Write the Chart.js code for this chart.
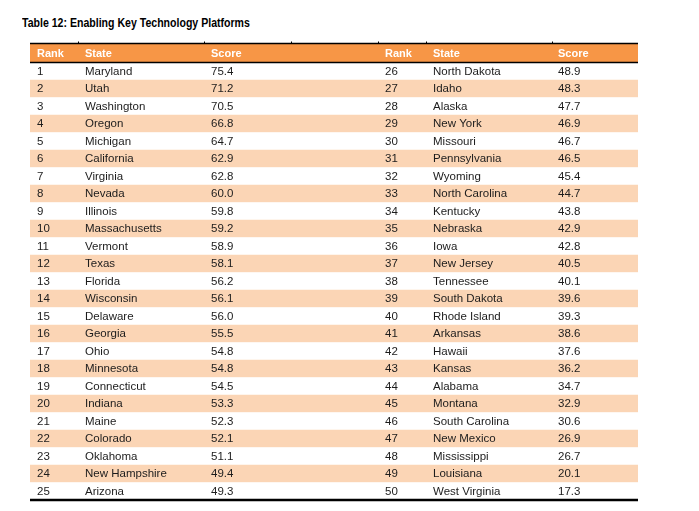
<!DOCTYPE html>
<html>
<head>
<meta charset="utf-8">
<title>Table 12: Enabling Key Technology Platforms</title>
<script src="https://cdn.jsdelivr.net/npm/chart.js@4.4.1/dist/chart.umd.min.js"></script>
<style>
  html, body { margin: 0; padding: 0; background: #fff; }
  body { width: 699px; height: 511px; position: relative; overflow: hidden; }
  #title {
    position: absolute; left: 22px; top: 16px;
    font: bold 12px "Liberation Sans", Arial, sans-serif;
    color: #000; white-space: nowrap;
    transform: scaleX(0.88); transform-origin: left top;
  }
  #wrap { position: absolute; left: 26px; top: 40px; width: 616px; height: 464px; }
</style>
</head>
<body>
<div id="title">Table 12: Enabling Key Technology Platforms</div>
<div id="wrap"><canvas id="tableChart"></canvas></div>
<script>
const headers = ["Rank", "State", "Score"];

const ranks = [1, 2, 3, 4, 5, 6, 7, 8, 9, 10, 11, 12, 13, 14, 15, 16, 17, 18, 19, 20, 21, 22, 23, 24, 25,
  26, 27, 28, 29, 30, 31, 32, 33, 34, 35, 36, 37, 38, 39, 40, 41, 42, 43, 44, 45, 46, 47, 48, 49, 50];

const states = ["Maryland", "Utah", "Washington", "Oregon", "Michigan", "California", "Virginia", "Nevada",
  "Illinois", "Massachusetts", "Vermont", "Texas", "Florida", "Wisconsin", "Delaware", "Georgia", "Ohio",
  "Minnesota", "Connecticut", "Indiana", "Maine", "Colorado", "Oklahoma", "New Hampshire", "Arizona",
  "North Dakota", "Idaho", "Alaska", "New York", "Missouri", "Pennsylvania", "Wyoming", "North Carolina",
  "Kentucky", "Nebraska", "Iowa", "New Jersey", "Tennessee", "South Dakota", "Rhode Island", "Arkansas",
  "Hawaii", "Kansas", "Alabama", "Montana", "South Carolina", "New Mexico", "Mississippi", "Louisiana",
  "West Virginia"];

const scores = [75.4, 71.2, 70.5, 66.8, 64.7, 62.9, 62.8, 60.0, 59.8, 59.2, 58.9, 58.1, 56.2, 56.1, 56.0,
  55.5, 54.8, 54.8, 54.5, 53.3, 52.3, 52.1, 51.1, 49.4, 49.3,
  48.9, 48.3, 47.7, 46.9, 46.7, 46.5, 45.4, 44.7, 43.8, 42.9, 42.8, 40.5, 40.1, 39.6, 39.3, 38.6,
  37.6, 36.2, 34.7, 32.9, 30.6, 26.9, 26.7, 20.1, 17.3];

// layout (table units = px from table left edge)
const TABLE_W = 608;
const ROWS_PER_HALF = 25;
const colX = [[7, 55, 181], [355, 403, 528]];
const dividerX = [48, 174, 261, 348, 396, 522];
const HEADER_EXTRA = 1.5; // header sits a little taller than body rows

const HEADER_BG = "#f79646";
const STRIPE_BG = "#fbd5b5";
const BODY_FONT = '11.5px "Liberation Sans", Arial, sans-serif';
const HEAD_FONT = 'bold 11px "Liberation Sans", Arial, sans-serif';

const rowLabels = ["header"];
for (let i = 0; i < ROWS_PER_HALF; i++) rowLabels.push(String(ranks[i]));

const rowColors = rowLabels.map((l, i) => i === 0 ? HEADER_BG : (i % 2 === 0 ? STRIPE_BG : "#ffffff"));

const cellText = {
  id: "cellText",
  beforeDatasetsDraw(chart) {
    const { ctx, chartArea } = chart;
    ctx.save();
    ctx.fillStyle = HEADER_BG;
    ctx.fillRect(chartArea.left, chartArea.top - HEADER_EXTRA, chartArea.right - chartArea.left, HEADER_EXTRA + 1);
    ctx.restore();
  },
  afterDatasetsDraw(chart) {
    const { ctx, chartArea } = chart;
    const x = chart.scales.x;
    const y = chart.scales.y;
    const band = (y.getPixelForValue(1) - y.getPixelForValue(0));
    const top = chartArea.top - HEADER_EXTRA;

    ctx.save();
    ctx.textBaseline = "middle";
    ctx.textAlign = "left";

    // header
    ctx.font = HEAD_FONT;
    ctx.fillStyle = "#ffffff";
    const hy = y.getPixelForValue(0);
    colX.forEach(cols => cols.forEach((cx, j) => ctx.fillText(headers[j], x.getPixelForValue(cx), hy)));

    // body
    ctx.font = BODY_FONT;
    ctx.fillStyle = "#1c1c1c";
    for (let r = 0; r < ROWS_PER_HALF; r++) {
      const py = y.getPixelForValue(r + 1) + 0.5;
      colX.forEach((cols, h) => {
        const k = h * ROWS_PER_HALF + r;
        ctx.fillText(String(ranks[k]), x.getPixelForValue(cols[0]), py);
        ctx.fillText(states[k], x.getPixelForValue(cols[1]), py);
        ctx.fillText(scores[k].toFixed(1), x.getPixelForValue(cols[2]), py);
      });
    }

    // rules
    ctx.strokeStyle = "#000000";
    ctx.lineWidth = 1.5;
    ctx.beginPath();
    ctx.moveTo(chartArea.left, top);
    ctx.lineTo(chartArea.right, top);
    const hb = y.getPixelForValue(0) + band / 2;
    ctx.moveTo(chartArea.left, hb);
    ctx.lineTo(chartArea.right, hb);
    ctx.stroke();

    ctx.lineWidth = 2.5;
    ctx.beginPath();
    ctx.moveTo(chartArea.left, chartArea.bottom);
    ctx.lineTo(chartArea.right, chartArea.bottom);
    ctx.stroke();

    ctx.lineWidth = 1;
    ctx.beginPath();
    dividerX.forEach(d => {
      const px = Math.round(x.getPixelForValue(d)) + 0.5;
      ctx.moveTo(px, top - 2);
      ctx.lineTo(px, top);
    });
    ctx.stroke();
    ctx.restore();
  }
};

new Chart(document.getElementById("tableChart"), {
  type: "bar",
  data: {
    labels: rowLabels,
    datasets: [{
      data: rowLabels.map(() => [0, TABLE_W]),
      backgroundColor: rowColors,
      borderWidth: 0,
      barPercentage: 1,
      categoryPercentage: 1
    }]
  },
  options: {
    indexAxis: "y",
    responsive: true,
    maintainAspectRatio: false,
    animation: false,
    events: [],
    layout: { padding: { left: 4, right: 4, top: 5, bottom: 4 } },
    plugins: { legend: { display: false }, tooltip: { enabled: false }, title: { display: false } },
    scales: {
      x: { type: "linear", min: 0, max: TABLE_W, display: false },
      y: { display: false }
    }
  },
  plugins: [cellText]
});
</script>
</body>
</html>
